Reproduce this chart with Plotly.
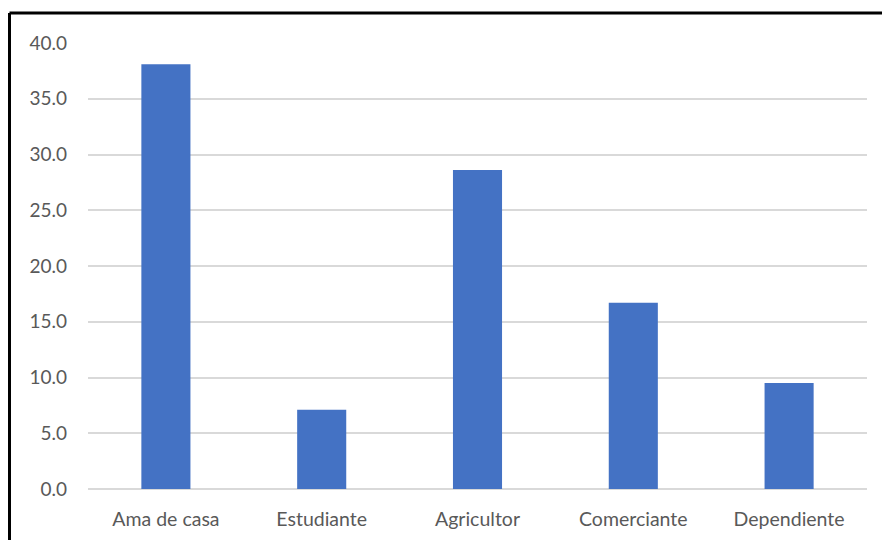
import plotly.graph_objects as go

categories = ["Ama de casa", "Estudiante", "Agricultor", "Comerciante", "Dependiente"]
values = [38.1, 7.1, 28.6, 16.7, 9.5]
y_ticks = [0, 5, 10, 15, 20, 25, 30, 35, 40]
y_tick_labels = [f"{v:.1f}" for v in y_ticks]

W, H = 882, 540
ml, mr, mt, mb = 88, 15, 43, 51
pw, ph = W - ml - mr, H - mt - mb

# frame line positions (pixels) converted to paper coordinates
frame_x = (9.5 - ml) / pw
frame_y = 1 + (mt - 13) / ph

label_font = dict(family="Lato, Open Sans, sans-serif", size=19, color="#595959")

fig = go.Figure(
    go.Bar(
        x=categories,
        y=values,
        marker=dict(color="#4472C4", line=dict(width=0)),
        width=0.315,
    )
)

fig.update_layout(
    width=W,
    height=H,
    margin=dict(l=ml, r=mr, t=mt, b=mb, autoexpand=False),
    paper_bgcolor="white",
    plot_bgcolor="white",
    showlegend=False,
    font=label_font,
    xaxis=dict(
        automargin=False,
        showgrid=False,
        showline=False,
        ticks="",
        tickfont=dict(family=label_font["family"], size=19.5, color="#595959"),
        ticklabelstandoff=16,
    ),
    yaxis=dict(
        automargin=False,
        range=[0, 40],
        tickvals=y_ticks,
        ticktext=y_tick_labels,
        showgrid=True,
        gridcolor="#d9d9d9",
        gridwidth=1.5,
        zeroline=True,
        zerolinecolor="#d9d9d9",
        zerolinewidth=1.5,
        showline=False,
        ticks="",
        ticklabelstandoff=20,
        tickfont=label_font,
    ),
    shapes=[
        dict(type="line", xref="paper", yref="paper",
             x0=frame_x, x1=1.1, y0=frame_y, y1=frame_y,
             line=dict(color="black", width=3)),
        dict(type="line", xref="paper", yref="paper",
             x0=frame_x, x1=frame_x, y0=-0.2, y1=frame_y,
             line=dict(color="black", width=3)),
    ],
)

fig.write_html("out.html")
